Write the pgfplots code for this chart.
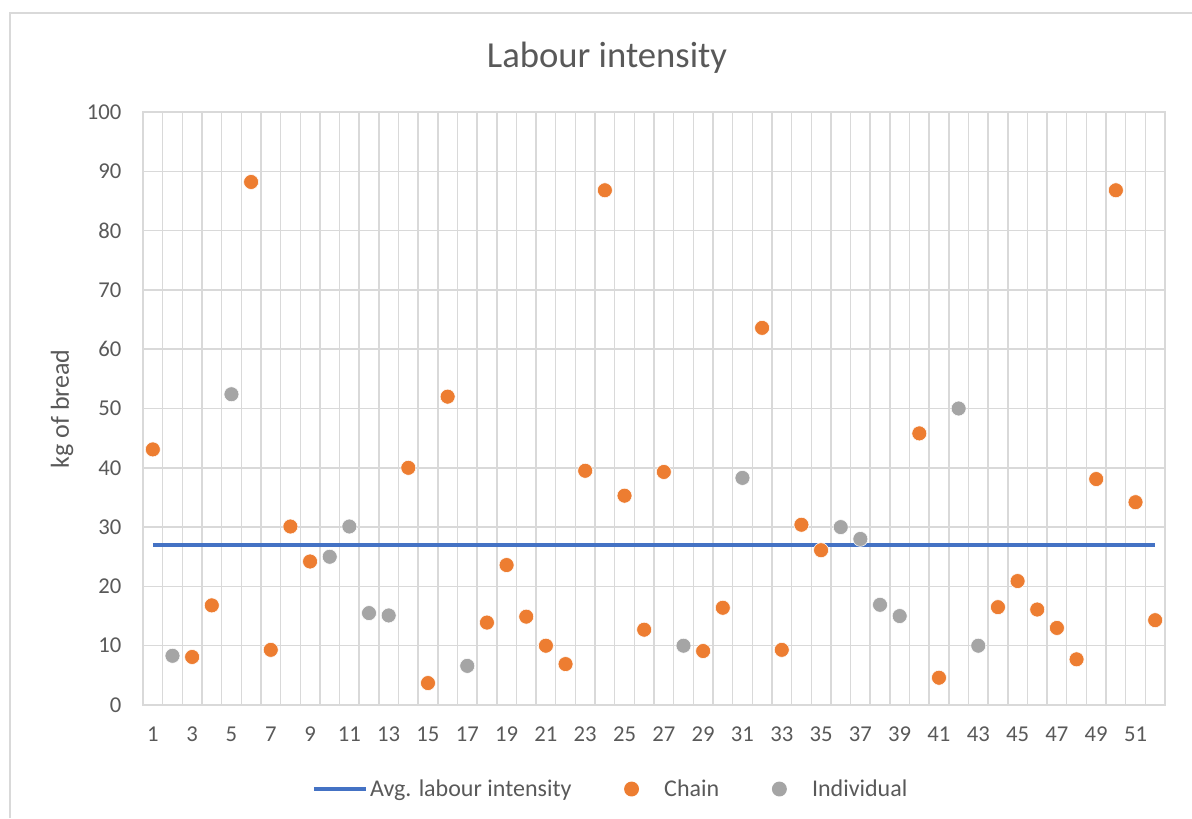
\documentclass[border=0pt]{standalone}
\usepackage{pgfplots}
\pgfplotsset{compat=1.18}
\usepackage{pgfplotstable}
\usepackage{fontspec}
\setmainfont{Carlito}
\definecolor{orng}{HTML}{ED7D31}
\definecolor{gryp}{HTML}{A5A5A5}
\definecolor{blu}{HTML}{4472C4}
\definecolor{txt}{HTML}{595959}
\definecolor{gridc}{HTML}{D9D9D9}

\pgfplotstableread{
x y
1 43.1
3 8.1
4 16.8
6 88.2
7 9.3
8 30.1
9 24.2
14 40.0
15 3.7
16 52.0
18 13.9
19 23.6
20 14.9
21 10.0
22 6.9
23 39.5
24 86.8
25 35.3
26 12.7
27 39.3
29 9.1
30 16.4
32 63.6
33 9.3
34 30.4
35 26.1
40 45.8
41 4.6
44 16.5
45 20.9
46 16.1
47 13.0
48 7.7
49 38.1
50 86.8
51 34.2
52 14.3
}\chain

\pgfplotstableread{
x y
2 8.3
5 52.4
10 25.0
11 30.1
12 15.5
13 15.1
17 6.6
28 10.0
31 38.3
36 30.0
37 28.0
38 16.9
39 15.0
42 50.0
43 10.0
}\indiv

\pgfplotstableread{
x y
1 27.0
52 27.0
}\avg

\begin{document}
\begin{tikzpicture}
\useasboundingbox (0pt,0pt) rectangle (894pt,613.5pt);
\draw[gridc, line width=1.2pt] (7.5pt,0pt) -- (7.5pt,603.75pt) -- (894pt,603.75pt);
\node[txt, font=\fontsize{27.5}{32}\selectfont] at (455.25pt,570pt) {Labour intensity};
\node[txt, rotate=90, font=\fontsize{19.5}{22}\selectfont] at (46.5pt,306.75pt) {kg of bread};
\begin{axis}[
  at={(107.25pt,84.75pt)}, anchor=south west,
  scale only axis, width=766.5pt, height=444.75pt,
  xmin=0.5, xmax=52.5, ymin=0, ymax=100,
  ytick={0,10,...,100},
  xtick={1,3,...,51},
  minor xtick={0.5,1.5,...,52.5},
  xminorgrids=true, ymajorgrids=true, xmajorgrids=false,
  major tick length=0pt, minor tick length=0pt,
  axis line style={draw=gridc, line width=1.1pt},
  grid style={draw=gridc, line width=1.1pt},
  minor grid style={draw=gridc, line width=1.1pt},
  tick label style={txt, font=\fontsize{17}{20}\selectfont},
  /pgf/number format/assume math mode=true,
  yticklabel style={anchor=east, inner sep=0pt, xshift=-16pt},
  xticklabel style={anchor=north, inner sep=0pt, yshift=-16pt},
  legend columns=3,
  legend style={draw=none, fill=none, at={(axis description cs:0.458,-0.1417)}, anchor=center,
    font=\fontsize{18}{21}\selectfont, text=txt,
    /tikz/every even column/.append style={column sep=37.5pt}},
  legend cell align=left,
]
\addplot[blu, line width=2.6pt, legend image code/.code={\draw[blu, line width=2.6pt] (0pt,0pt) -- (39pt,0pt);}] table[x=x,y=y] {\avg};
\addlegendentry{Avg. labour intensity}
\addplot[only marks, mark=*, mark size=5.6pt, mark options={draw=white, line width=0.4pt, fill=orng},
  legend image code/.code={\path[draw=none] (0pt,0pt) -- (22.5pt,0pt); \path[draw=none, fill=orng] (0pt,0pt) circle (5.6pt);}] table[x=x,y=y] {\chain};
\addlegendentry{Chain}
\addplot[only marks, mark=*, mark size=5.6pt, mark options={draw=white, line width=0.4pt, fill=gryp},
  legend image code/.code={\path[draw=none] (0pt,0pt) -- (22.5pt,0pt); \path[draw=none, fill=gryp] (0pt,0pt) circle (5.6pt);}] table[x=x,y=y] {\indiv};
\addlegendentry{Individual}
\end{axis}
\end{tikzpicture}
\end{document}
